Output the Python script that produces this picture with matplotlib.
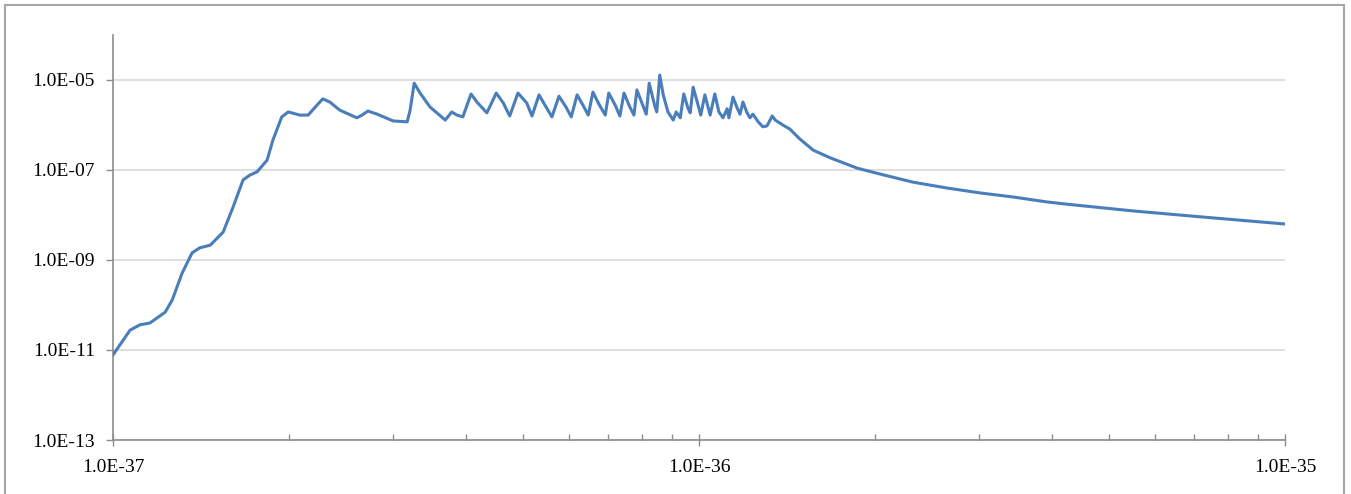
import matplotlib

matplotlib.use('Agg')
import matplotlib.pyplot as plt
from matplotlib.patches import Rectangle
from matplotlib.ticker import FixedLocator, FuncFormatter, LogLocator, NullFormatter

# values, kept as log10 of x and of y
log_x = [
    -37.000, -36.971, -36.954, -36.937, -36.911, -36.899, -36.882, -36.865, -36.852, -36.834,
    -36.812, -36.795, -36.778, -36.766, -36.754, -36.737, -36.727, -36.712, -36.701, -36.681,
    -36.667, -36.652, -36.642, -36.630, -36.613, -36.584, -36.575, -36.565, -36.549, -36.522,
    -36.498, -36.493, -36.486, -36.476, -36.459, -36.433, -36.422, -36.413, -36.403, -36.389,
    -36.379, -36.362, -36.346, -36.334, -36.323, -36.309, -36.294, -36.285, -36.273, -36.261,
    -36.251, -36.239, -36.227, -36.218, -36.208, -36.198, -36.189, -36.181, -36.171, -36.160,
    -36.154, -36.143, -36.135, -36.128, -36.118, -36.111, -36.106, -36.096, -36.090, -36.085,
    -36.075, -36.072, -36.067, -36.061, -36.053, -36.044, -36.039, -36.032, -36.026, -36.019,
    -36.015, -36.010, -36.003, -35.997, -35.990, -35.981, -35.973, -35.966, -35.959, -35.952,
    -35.949, -35.942, -35.935, -35.930, -35.925, -35.918, -35.913, -35.908, -35.899, -35.891,
    -35.884, -35.875, -35.870, -35.857, -35.845, -35.828, -35.805, -35.776, -35.730, -35.691,
    -35.635, -35.577, -35.520, -35.464, -35.406, -35.372, -35.259, -35.145, -35.000,
]
log_y = [
    -11.11, -10.56, -10.44, -10.40, -10.16, -9.89, -9.29, -8.84, -8.73, -8.67,
    -8.38, -7.82, -7.22, -7.11, -7.04, -6.78, -6.33, -5.82, -5.71, -5.78,
    -5.78, -5.56, -5.42, -5.49, -5.67, -5.84, -5.78, -5.69, -5.76, -5.91,
    -5.93, -5.67, -5.07, -5.29, -5.60, -5.89, -5.71, -5.78, -5.82, -5.31,
    -5.49, -5.73, -5.29, -5.51, -5.80, -5.29, -5.51, -5.80, -5.33, -5.60,
    -5.82, -5.36, -5.60, -5.82, -5.33, -5.56, -5.78, -5.27, -5.53, -5.78,
    -5.29, -5.56, -5.80, -5.29, -5.60, -5.78, -5.22, -5.56, -5.76, -5.07,
    -5.60, -5.71, -4.89, -5.33, -5.71, -5.89, -5.71, -5.84, -5.31, -5.62,
    -5.73, -5.16, -5.49, -5.78, -5.33, -5.78, -5.31, -5.71, -5.84, -5.64,
    -5.84, -5.38, -5.62, -5.76, -5.49, -5.73, -5.84, -5.76, -5.93, -6.04,
    -6.02, -5.80, -5.89, -6.00, -6.09, -6.31, -6.56, -6.73, -6.96, -7.09,
    -7.27, -7.40, -7.51, -7.60, -7.71, -7.76, -7.91, -8.04, -8.20,
]
y_ticks = [1e-13, 1e-11, 1e-9, 1e-7, 1e-5]
x_ticks = [1e-37, 1e-36, 1e-35]

x_values = [10 ** v for v in log_x]
y_values = [10 ** v for v in log_y]

tick_font = {'family': 'Liberation Serif', 'size': 14}


def sci_label(value, pos):
    return format(value, '.1E')


fig = plt.figure(figsize=(13.51, 4.94), dpi=100)
ax = fig.add_axes([113 / 1351, 1 - 440 / 494, (1285 - 113) / 1351, (440 - 35) / 494])

ax.plot(x_values, y_values, color='#4a7ebb', lw=2.2, solid_joinstyle='round',
        solid_capstyle='round', zorder=3)
ax.set_xscale('log')
ax.set_yscale('log')
ax.set_xlim(1e-37, 1e-35)
ax.set_ylim(1e-13, 1e-4)

ax.yaxis.set_major_locator(FixedLocator(y_ticks))
ax.yaxis.set_minor_locator(FixedLocator([]))
ax.yaxis.set_major_formatter(FuncFormatter(sci_label))
ax.xaxis.set_major_locator(FixedLocator(x_ticks))
ax.xaxis.set_minor_locator(LogLocator(base=10, subs=range(2, 10)))
ax.xaxis.set_major_formatter(FuncFormatter(sci_label))
ax.xaxis.set_minor_formatter(NullFormatter())

ax.grid(axis='y', which='major', color='#d9d9d9', lw=1.2, zorder=0)
for side in ['top', 'right']:
    ax.spines[side].set_visible(False)
for side in ['left', 'bottom']:
    ax.spines[side].set_color('#8c8c8c')
    ax.spines[side].set_linewidth(1.2)

ax.tick_params(axis='y', which='major', direction='out', length=5, width=1, color='#8c8c8c', pad=8)
ax.tick_params(axis='x', which='major', direction='inout', length=8, width=1, color='#8c8c8c', pad=10)
ax.tick_params(axis='x', which='minor', direction='in', length=4, width=1, color='#8c8c8c')
for label in ax.get_xticklabels() + ax.get_yticklabels():
    label.set_fontfamily(tick_font['family'])
    label.set_fontsize(tick_font['size'])

# outer chart border
fig.patches.append(Rectangle((5 / 1351, -0.05), 1339 / 1351, 1.05 - 5 / 494, transform=fig.transFigure,
                             fill=False, edgecolor='#a6a6a6', lw=1.5))

fig.savefig('out.png', dpi=100)
